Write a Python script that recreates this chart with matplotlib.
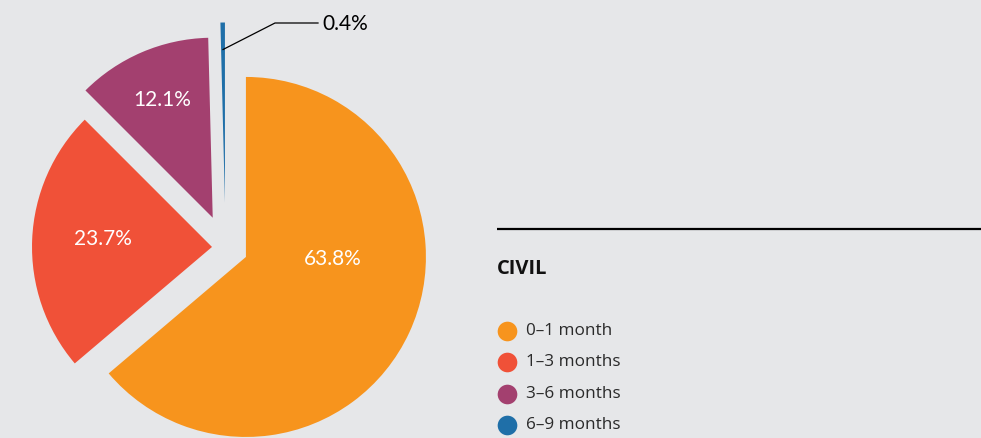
import numpy as np
import matplotlib.pyplot as plt

# data
labels = ['0\u20131 month', '1\u20133 months', '3\u20136 months', '6\u20139 months']
shares = [63.8, 23.7, 12.1, 0.4]
colors = ['#F7941D', '#F05138', '#A3406F', '#1F6FA8']
explode = [0.125, 0.075, 0.18, 0.25]  # fraction of radius
title = 'CIVIL'

W, H = 981, 438
bg = '#E6E7E9'
plt.rcParams['font.family'] = ['Lato', 'DejaVu Sans']

fig = plt.figure(figsize=(W / 100, H / 100), dpi=100, facecolor=bg)
ax = fig.add_axes([0, 0, 1, 1])
ax.set_facecolor(bg)

# pie in pixel coordinates (y up); matplotlib explode is in data units
cx, cy, R = 225.5, H - 247.5, 180
wedges, _ = ax.pie(shares, colors=colors, explode=[e * R for e in explode],
                   startangle=90, counterclock=False, radius=R,
                   center=(cx, cy), wedgeprops=dict(linewidth=0))
ax.set_xlim(0, W)
ax.set_ylim(0, H)
ax.set_aspect('equal')
ax.axis('off')

# percentage labels (hand placed like the original)
label_pos = [(333, 259), (103, 239), (162, 100)]
for (px, py), v in zip(label_pos, shares[:3]):
    ax.text(px, H - py, '%.1f%%' % v, color='white', fontsize=15,
            ha='center', va='center')

# leader for the tiny slice
w = wedges[3]
mid = np.deg2rad((w.theta1 + w.theta2) / 2)
sx = w.center[0] + 0.85 * R * np.cos(mid)
sy = w.center[1] + 0.85 * R * np.sin(mid)
ax.plot([sx, 275, 318], [sy, H - 23, H - 23], color='black', lw=0.9)
ax.text(322, H - 24, '%.1f%%' % shares[3], color='black', fontsize=15,
        ha='left', va='center')

# legend block
ax.plot([497, W], [H - 229, H - 229], color='black', lw=1.6,
        solid_capstyle='butt')
ax.text(497, H - 269, title, fontsize=14.5, fontweight='bold', color='#111111',
        ha='left', va='center', family=['Open Sans', 'DejaVu Sans'])
for i, (lab, c) in enumerate(zip(labels, colors)):
    y = H - (331 + 31.3 * i)
    ax.scatter([507], [y], s=200, color=c, linewidths=0)
    ax.text(526, y, lab, fontsize=12.3, color='#2a2a2a', ha='left',
            va='center', family=['Open Sans', 'DejaVu Sans'])

fig.savefig('out.png', dpi=100, facecolor=bg)
